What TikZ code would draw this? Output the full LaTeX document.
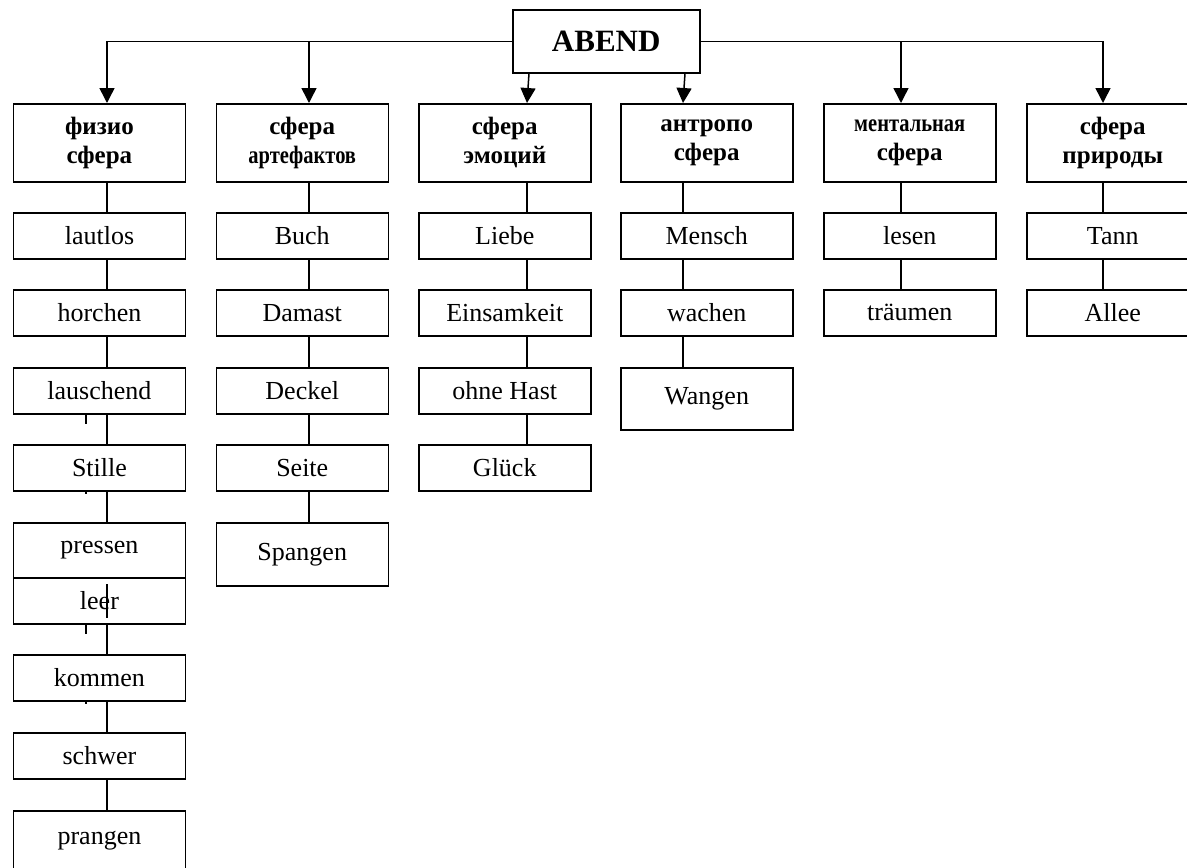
\documentclass[tikz,border=0pt]{standalone}
\usepackage{fontspec}
\setmainfont{Liberation Serif}
\usetikzlibrary{arrows.meta}
\tikzset{
  wordbox/.style={draw,line width=1.5pt,minimum width=172pt,minimum height=46pt,anchor=north west,inner sep=0pt,font=\fontsize{26}{30}\selectfont},
  spherebox/.style={wordbox,minimum height=78pt,align=center,font=\fontsize{25}{29}\selectfont\bfseries},
  link/.style={line width=1.5pt},
  branch/.style={line width=1.5pt,-{Triangle[length=15pt,width=15pt]}}
}
\newcommand{\narrowtxt}[1]{\scalebox{0.82}[1]{#1}}

\begin{document}
\begin{tikzpicture}[x=1pt,y=-1pt,line join=miter]
\useasboundingbox (0,0) rectangle (1187,868);
\clip (0,0) rectangle (1187,868);
\node[draw,line width=1.5pt,minimum width=187pt,minimum height=63pt,anchor=north west,inner sep=0pt,font=\fontsize{31}{36}\selectfont\bfseries] (abend) at (512,9) {ABEND};
% connector columns
\coordinate (c1) at (107,41);
\coordinate (c2) at (309,41);
\coordinate (c3) at (527,41);
\coordinate (c4) at (683,41);
\coordinate (c5) at (901,41);
\coordinate (c6) at (1103,41);
\coordinate (t1) at (86,0);
% spheres
\node[spherebox] (physio) at (12.7,103) {физио\\сфера};
\node[spherebox] (artefact) at (215.5,103) {сфера\\\narrowtxt{артефактов}};
\node[spherebox] (emotion) at (418,103) {сфера\\эмоций};
\node[spherebox] (anthropo) at (620,103) {антропо\\сфера};
\node[spherebox] (mental) at (823,103) {\narrowtxt{ментальная}\\сфера};
\node[spherebox] (nature) at (1026,103) {сфера\\природы};
% physio
\node[wordbox] (lautlos) at (12.7,212) {lautlos};
\node[wordbox] (horchen) at (12.7,289) {horchen};
\node[wordbox] (lauschend) at (12.7,367) {lauschend};
\node[wordbox] (stille) at (12.7,444) {Stille};
\node[wordbox,minimum height=55pt] (pressen) at (12.7,522) {pressen};
\node[wordbox] (leer) at (12.7,577) {leer};
\node[wordbox] (kommen) at (12.7,654) {kommen};
\node[wordbox] (schwer) at (12.7,732) {schwer};
\node[wordbox,minimum height=60pt] (prangen) at (12.7,810) {prangen};
% artefacts
\node[wordbox] (buch) at (215.5,212) {Buch};
\node[wordbox] (damast) at (215.5,289) {Damast};
\node[wordbox] (deckel) at (215.5,367) {Deckel};
\node[wordbox] (seite) at (215.5,444) {Seite};
\node[wordbox,minimum height=63pt] (spangen) at (215.5,522) {Spangen};
% emotions
\node[wordbox] (liebe) at (418,212) {Liebe};
\node[wordbox] (einsamkeit) at (418,289) {Einsamkeit};
\node[wordbox] (ohnehast) at (418,367) {ohne Hast};
\node[wordbox] (glueck) at (418,444) {Glück};
% anthropo
\node[wordbox] (mensch) at (620,212) {Mensch};
\node[wordbox] (wachen) at (620,289) {wachen};
\node[wordbox,minimum height=62pt] (wangen) at (620,367) {Wangen};
% mental
\node[wordbox] (lesen) at (823,212) {lesen};
\node[wordbox] (traeumen) at (823,289) {träumen};
% nature
\node[wordbox] (tann) at (1026,212) {Tann};
\node[wordbox] (allee) at (1026,289) {Allee};
% arrows from ABEND
\draw[branch] (abend.west) -| (physio.north -| c1);
\draw[branch] (c2) -- (artefact.north -| c2);
\draw[branch] ([xshift=2pt]abend.south -| c3) -- (emotion.north -| c3);
\draw[branch] ([xshift=2pt]abend.south -| c4) -- (anthropo.north -| c4);
\draw[branch] (abend.east) -| (nature.north -| c6);
\draw[branch] (c5) -- (mental.north -| c5);
% links in the columns
\foreach \a/\b/\c in {physio/lautlos/c1,lautlos/horchen/c1,horchen/lauschend/c1,lauschend/stille/c1,stille/pressen/c1,leer/kommen/c1,kommen/schwer/c1,schwer/prangen/c1,
  artefact/buch/c2,buch/damast/c2,damast/deckel/c2,deckel/seite/c2,seite/spangen/c2,
  emotion/liebe/c3,liebe/einsamkeit/c3,einsamkeit/ohnehast/c3,ohnehast/glueck/c3,
  anthropo/mensch/c4,mensch/wachen/c4,wachen/wangen/c4,
  mental/lesen/c5,lesen/traeumen/c5,
  nature/tann/c6,tann/allee/c6}
  \draw[link] (\a.south -| \c) -- (\b.north -| \c);
\draw[link] ([yshift=-7pt]leer.north -| c1) -- ([yshift=7pt]leer.south -| c1);
% stray ticks
\draw[link] (lauschend.south -| t1) -- ++(0,9);
\draw[link] (leer.south -| t1) -- ++(0,9);
\draw[link] (stille.south -| t1) -- ++(0,2);
\draw[link] (kommen.south -| t1) -- ++(0,2);
\end{tikzpicture}
\end{document}
